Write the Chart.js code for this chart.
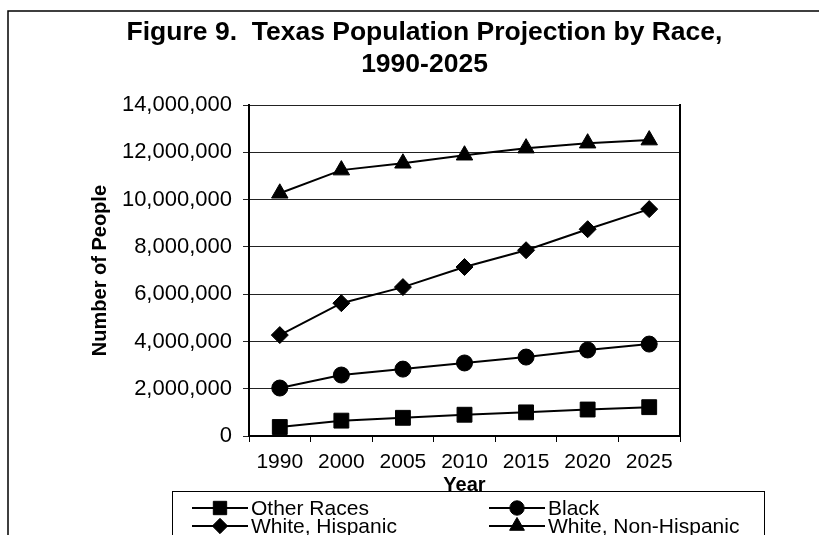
<!DOCTYPE html>
<html>
<head>
<meta charset="utf-8">
<title>Texas Population Projection by Race</title>
<script src="https://cdn.jsdelivr.net/npm/chart.js"></script>
<style>
  html, body { margin: 0; padding: 0; background: #fff; }
  #wrap { width: 819px; height: 535px; overflow: hidden; }
</style>
</head>
<body>
<div id="wrap"><canvas id="popChart" width="819" height="535"></canvas></div>
<script>
// Chart data
const years = ["1990", "2000", "2005", "2010", "2015", "2020", "2025"];
const otherRaces = [380000, 650000, 770000, 900000, 1000000, 1120000, 1220000];
const black = [2030000, 2580000, 2830000, 3090000, 3340000, 3640000, 3890000];
const whiteHispanic = [4270000, 5620000, 6300000, 7150000, 7860000, 8750000, 9600000];
const whiteNonHispanic = [10270000, 11250000, 11540000, 11880000, 12180000, 12390000, 12520000];

const titleLines = ["Figure 9.  Texas Population Projection by Race,", "1990-2025"];
const FONT = "'Liberation Sans', Arial, Helvetica, sans-serif";

function series(label, data, style, radius) {
  return {
    label: label,
    data: data,
    borderColor: "#000",
    backgroundColor: "#000",
    borderWidth: 2,
    pointStyle: style,
    pointRadius: radius,
    pointBackgroundColor: "#000",
    pointBorderColor: "#000",
    pointBorderWidth: 1,
    tension: 0
  };
}

// small fallback if helpers.drawPoint is missing
function drawMarker(ctx, style, r, x, y) {
  if (Chart.helpers && Chart.helpers.drawPoint) {
    Chart.helpers.drawPoint(ctx, { pointStyle: style, radius: r, borderWidth: 1, rotation: 0 }, x, y);
    return;
  }
  ctx.beginPath();
  if (style === "circle") ctx.arc(x, y, r, 0, Math.PI * 2);
  else if (style === "rect") { const s = r * Math.SQRT1_2; ctx.rect(x - s, y - s, 2 * s, 2 * s); }
  else if (style === "rectRot") { ctx.moveTo(x - r, y); ctx.lineTo(x, y - r); ctx.lineTo(x + r, y); ctx.lineTo(x, y + r); ctx.closePath(); }
  else { ctx.moveTo(x, y - r); ctx.lineTo(x + r * 0.866, y + r / 2); ctx.lineTo(x - r * 0.866, y + r / 2); ctx.closePath(); }
  ctx.fill();
  ctx.stroke();
}

// outer frame of the figure
const framePlugin = {
  id: "frame",
  beforeDraw(chart) {
    const ctx = chart.ctx;
    ctx.save();
    ctx.fillStyle = "#fff";
    ctx.fillRect(0, 0, chart.width, chart.height);
    ctx.strokeStyle = "#000";
    ctx.lineWidth = 1.5;
    ctx.beginPath();
    ctx.moveTo(8, chart.height);
    ctx.lineTo(8, 11);
    ctx.lineTo(chart.width, 11);
    ctx.stroke();
    ctx.restore();
  }
};

// Excel style boxed legend, two columns
const boxLegend = {
  id: "boxLegend",
  afterDraw(chart) {
    const ctx = chart.ctx;
    const sets = chart.data.datasets;
    const colX = [192, 489];
    const rowY = [508, 526];
    ctx.save();
    ctx.strokeStyle = "#000";
    ctx.lineWidth = 1;
    ctx.strokeRect(172.5, 491.5, 592, 60);
    ctx.font = "21px " + FONT;
    ctx.textBaseline = "middle";
    ctx.textAlign = "left";
    sets.forEach((ds, i) => {
      const x = colX[i % 2];
      const y = rowY[Math.floor(i / 2)];
      ctx.strokeStyle = "#000";
      ctx.lineWidth = 2;
      ctx.beginPath();
      ctx.moveTo(x, y);
      ctx.lineTo(x + 56, y);
      ctx.stroke();
      ctx.fillStyle = "#000";
      ctx.lineWidth = 1;
      drawMarker(ctx, ds.pointStyle, ds.pointRadius * 0.9, x + 28, y);
      ctx.fillStyle = "#000";
      ctx.fillText(ds.label, x + 59, y + 1);
    });
    ctx.restore();
  }
};

new Chart(document.getElementById("popChart"), {
  type: "line",
  data: {
    labels: years,
    datasets: [
      series("Other Races", otherRaces, "rect", 10.5),
      series("Black", black, "circle", 8),
      series("White, Hispanic", whiteHispanic, "rectRot", 8.5),
      series("White, Non-Hispanic", whiteNonHispanic, "triangle", 9.5)
    ]
  },
  options: {
    responsive: false,
    animation: false,
    layout: { padding: { left: 30, right: 0, top: 0, bottom: 0 } },
    scales: {
      x: {
        type: "category",
        offset: true,
        afterFit(scale) { scale.height = 99; },
        border: { display: true, color: "#000", width: 2 },
        grid: { display: true, drawOnChartArea: false, drawTicks: true, tickLength: 6, color: "#000", lineWidth: 1, offset: true },
        ticks: { color: "#000", font: { family: FONT, size: 21 }, padding: 8, maxRotation: 0, autoSkip: false },
        title: { display: true, text: "Year", color: "#000", font: { family: FONT, size: 20, weight: "bold", lineHeight: 1 }, padding: { top: 0, bottom: 40 } }
      },
      y: {
        min: 0,
        max: 14000000,
        afterFit(scale) { scale.width = 219; },
        border: { display: true, color: "#000", width: 2 },
        grid: { color: "#222", lineWidth: 1, tickLength: 6, drawTicks: true },
        ticks: {
          stepSize: 2000000,
          color: "#000",
          padding: 11,
          font: { family: FONT, size: 22 },
          callback: (v) => v.toLocaleString("en-US")
        },
        title: { display: true, text: "Number of People", color: "#000", font: { family: FONT, size: 20, weight: "bold", lineHeight: 1.2 }, padding: { top: 58, bottom: 0 } }
      },
      yRight: {
        position: "right",
        min: 0,
        max: 14000000,
        afterFit(scale) { scale.width = 139; },
        border: { display: true, color: "#000", width: 2 },
        grid: { display: false },
        ticks: { display: false }
      }
    },
    plugins: {
      legend: { display: false },
      tooltip: { enabled: false },
      title: {
        display: true,
        text: titleLines,
        color: "#000",
        font: { family: FONT, size: 26.5, weight: "bold", lineHeight: 1.21 },
        padding: { top: 17, bottom: 24 }
      }
    }
  },
  plugins: [framePlugin, boxLegend]
});
</script>
</body>
</html>
